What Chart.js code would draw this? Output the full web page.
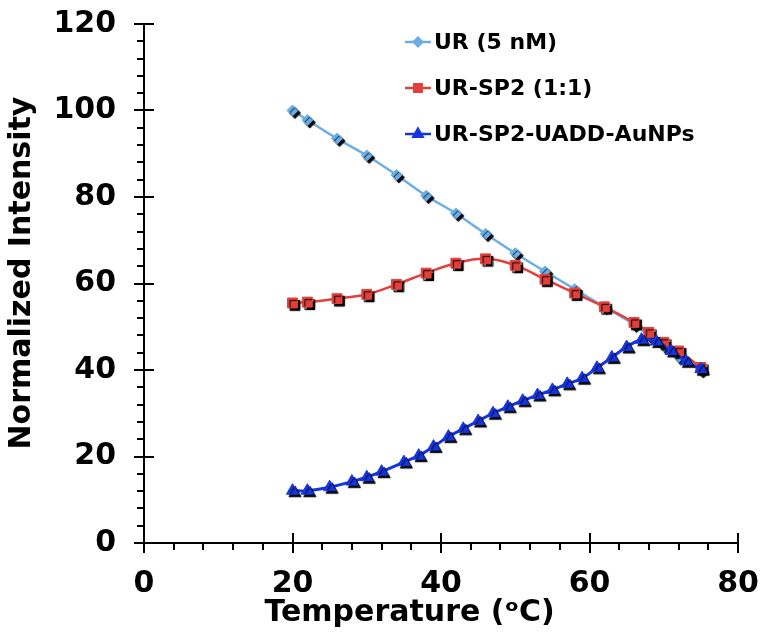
<!DOCTYPE html>
<html>
<head>
<meta charset="utf-8">
<script src="https://cdn.jsdelivr.net/npm/chart.js@4.4.1/dist/chart.umd.min.js"></script>
<style>
html,body{margin:0;padding:0;background:#fff;}
#wrap{width:760px;height:632px;position:relative;}
</style>
</head>
<body>
<div id="wrap"><canvas id="c" width="760" height="632"></canvas></div>
<script>
// ---- data ----
const seriesNames = ['UR (5 nM)', 'UR-SP2 (1:1)', 'UR-SP2-UADD-AuNPs'];
const urTemps = [20,22,26,30,34,38,42,46,50,54,58,62,66,68,70,72,75];
const urValues = [100,97.8,93.5,89.6,85.1,80.3,76.2,71.5,67,62.8,58.7,54.6,50.5,48,45.5,43,40];
const sp2Temps = [20,22,26,30,34,38,42,46,50,54,58,62,66,68,70,72,75];
const sp2Values = [55.5,55.7,56.5,57.5,59.8,62.4,64.7,65.7,64.2,61,57.8,54.6,51,48.7,46.4,44.4,40.6];
const aunpTemps = [20,22,25,28,30,32,35,37,39,41,43,45,47,49,51,53,55,57,59,61,63,65,67,69,71,73,75];
const aunpValues = [12.1,12.1,12.9,14.2,15.2,16.5,18.7,20.2,22.3,24.6,26.4,28.2,30.0,31.5,32.9,34.2,35.4,36.8,38.1,40.5,42.9,45.3,47.0,46.6,44.4,42.0,40.2];
const xTickValues = [0,20,40,60,80];
const yTickValues = [0,20,40,60,80,100,120];
const xTitle = 'Temperature (\u1d52C)';
const yTitle = 'Normalized Intensity';

// ---- styles ----
const FONT = 'DejaVu Sans';
const colors = ['#6aaee8', '#e2413b', '#1535e2'];
const pointStyles = ['rectRot', 'rect', 'triangle'];
const pointRadii = [5.5, 7, 7];
const lineWidths = [2.5, 2.5, 3];

function pts(xs, ys){ return xs.map((x,i)=>({x:x, y:ys[i]})); }
const seriesData = [pts(urTemps,urValues), pts(sp2Temps,sp2Values), pts(aunpTemps,aunpValues)];

// datasets: index 0 drawn last (on top). Order: dark blue on top, then red, then light blue
const datasets = [];
[2,1,0].forEach(s => {
  datasets.push({
    label: seriesNames[s] + ' points', data: seriesData[s], showLine: false,
    pointStyle: pointStyles[s], pointRadius: pointRadii[s], pointHoverRadius: pointRadii[s],
    pointBackgroundColor: colors[s], pointBorderColor: colors[s], pointBorderWidth: 1,
    shadow: true
  });
  datasets.push({
    label: seriesNames[s], data: seriesData[s], showLine: true,
    borderColor: colors[s], borderWidth: lineWidths[s], tension: 0.4,
    pointRadius: 0, pointHoverRadius: 0, fill: false
  });
});

const shadowPlugin = {
  id: 'shadow',
  beforeDatasetDraw(chart, args){
    const ds = chart.data.datasets[args.index];
    if (ds.shadow){
      const ctx = chart.ctx; ctx.save();
      ctx.shadowColor = '#000'; ctx.shadowOffsetX = 2.5; ctx.shadowOffsetY = 2.5; ctx.shadowBlur = 1;
    }
  },
  afterDatasetDraw(chart, args){
    if (chart.data.datasets[args.index].shadow) chart.ctx.restore();
  }
};

const axesPlugin = {
  id: 'axesTicks',
  afterDraw(chart){
    const {ctx, chartArea: ca, scales: {x, y}} = chart;
    ctx.save();
    ctx.strokeStyle = '#000'; ctx.lineWidth = 2; ctx.lineCap = 'butt';
    ctx.beginPath();
    ctx.moveTo(ca.left, ca.top); ctx.lineTo(ca.left, ca.bottom); ctx.lineTo(ca.right, ca.bottom);
    for (let v = x.min; v <= x.max + 1e-9; v += 4){
      const px = Math.round(x.getPixelForValue(v));
      const major = (v % 20 === 0);
      ctx.moveTo(px, major ? ca.bottom - 10 : ca.bottom);
      ctx.lineTo(px, ca.bottom + (major ? 10 : 7));
    }
    for (let v = y.min; v <= y.max + 1e-9; v += 4){
      const py = Math.round(y.getPixelForValue(v));
      const major = (v % 20 === 0);
      ctx.moveTo(ca.left + (major ? 10 : 0), py);
      ctx.lineTo(ca.left - (major ? 10 : 7), py);
    }
    ctx.stroke();
    ctx.restore();
  }
};

function drawMarker(ctx, style, x, y, r){
  Chart.helpers.drawPoint(ctx, {pointStyle: style, radius: r, borderWidth: 1}, x, y);
}

const legendPlugin = {
  id: 'customLegend',
  afterDraw(chart){
    const {ctx, chartArea: ca} = chart;
    const x0 = ca.left + 261, x1 = ca.left + 287, tx = ca.left + 290;
    const rows = [ca.top + 18, ca.top + 64, ca.top + 110];
    ctx.save();
    seriesNames.forEach((name, i) => {
      const yy = rows[i];
      ctx.strokeStyle = colors[i]; ctx.lineWidth = 2.5;
      ctx.beginPath(); ctx.moveTo(x0, yy); ctx.lineTo(x1, yy); ctx.stroke();
      ctx.fillStyle = colors[i]; ctx.strokeStyle = colors[i];
      drawMarker(ctx, pointStyles[i], (x0 + x1) / 2, yy, pointRadii[i] * 0.75);
      ctx.fillStyle = '#000';
      ctx.font = 'bold 22px "' + FONT + '"';
      ctx.textAlign = 'left'; ctx.textBaseline = 'middle';
      ctx.fillText(name, tx, yy + 1);
    });
    ctx.restore();
  }
};

const tickFont = {family: FONT, size: 30, weight: 'bold'};

new Chart(document.getElementById('c'), {
  type: 'scatter',
  data: { datasets: datasets },
  options: {
    responsive: false,
    animation: false,
    events: [],
    layout: { padding: { top: 24, right: 22, left: 0, bottom: 0 } },
    plugins: { legend: { display: false }, tooltip: { enabled: false } },
    scales: {
      x: {
        type: 'linear', min: 0, max: 80,
        grid: { display: false, drawTicks: false },
        border: { display: false },
        afterBuildTicks: s => { s.ticks = xTickValues.map(v => ({value: v})); },
        ticks: { color: '#000', font: tickFont, padding: 23, maxRotation: 0 },
        title: { display: true, text: xTitle + '\u00a0\u00a0\u00a0\u00a0\u00a0\u00a0', color: '#000', font: {family: FONT, size: 30, weight: 'bold'}, padding: {top: 0, bottom: 1} },
        afterFit: s => { s.height = 89; s.paddingLeft = 0; s.paddingRight = 0; }
      },
      y: {
        type: 'linear', min: 0, max: 120,
        grid: { display: false, drawTicks: false },
        border: { display: false },
        afterBuildTicks: s => { s.ticks = yTickValues.map(v => ({value: v})); },
        ticks: { color: '#000', font: tickFont, padding: 28 },
        title: { display: true, text: '\u00a0\u00a0' + yTitle, color: '#000', font: tickFont, padding: {top: 4, bottom: 0} },
        afterFit: s => { s.width = 144; s.paddingTop = 0; s.paddingBottom = 0; }
      }
    }
  },
  plugins: [shadowPlugin, axesPlugin, legendPlugin]
});
</script>
</body>
</html>
